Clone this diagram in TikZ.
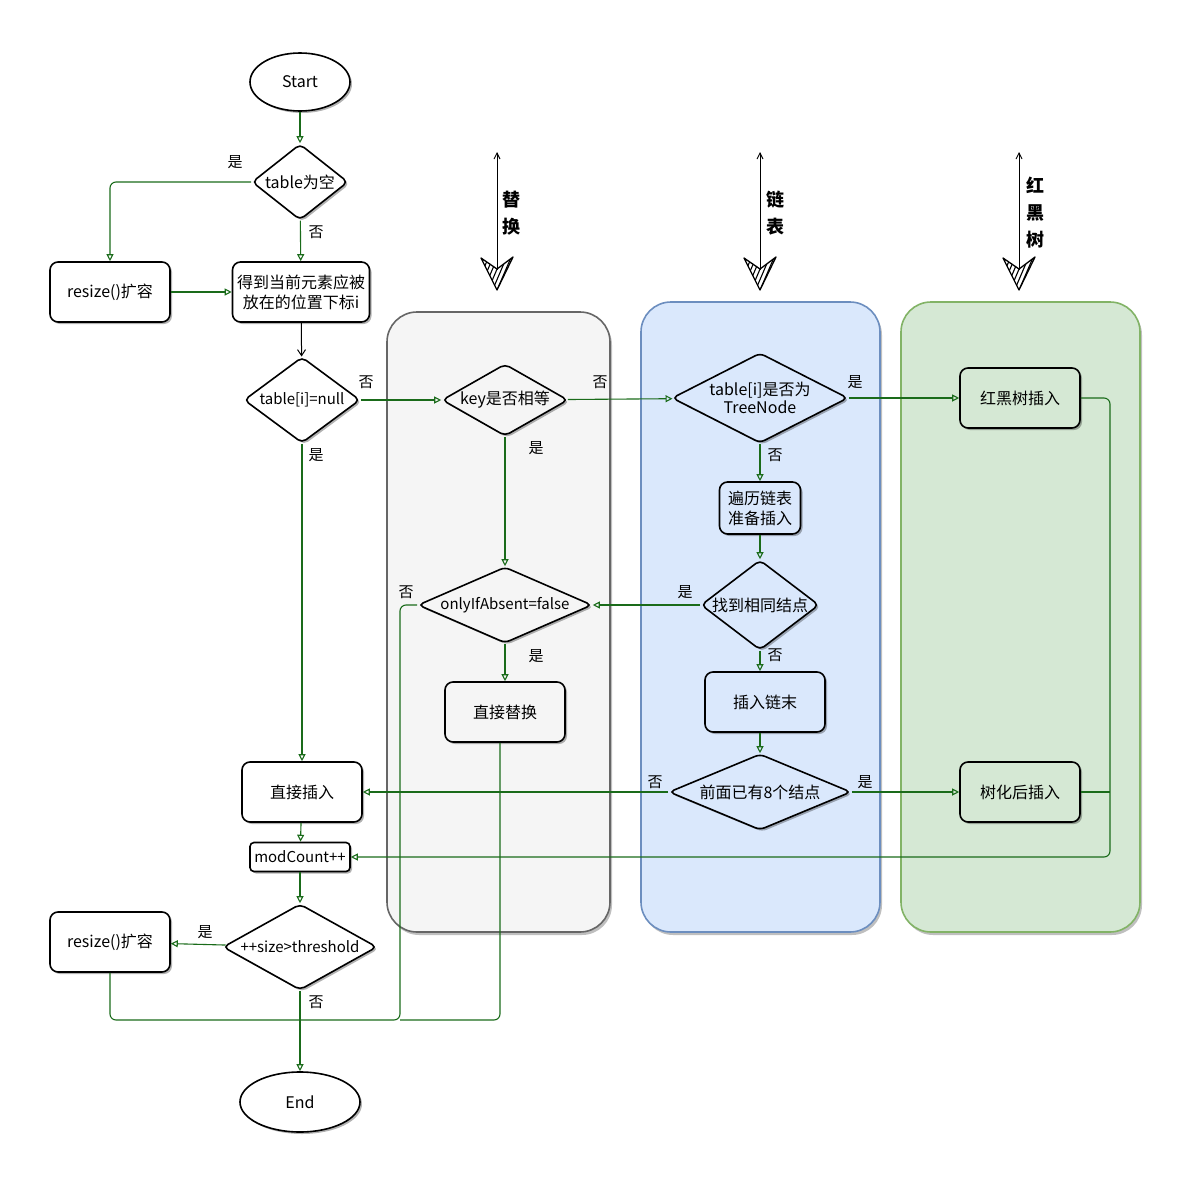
\documentclass[tikz,border=0pt]{standalone}
\usepackage{fontspec}
\setmainfont{Noto Sans CJK SC}
\usetikzlibrary{shapes.geometric,arrows.meta,shadows,calc}
\definecolor{lg}{HTML}{1A6B1A}
\definecolor{grayf}{HTML}{F5F5F5}
\definecolor{grays}{HTML}{666666}
\definecolor{bluef}{HTML}{DAE8FC}
\definecolor{blues}{HTML}{6C8EBF}
\definecolor{greenf}{HTML}{D5E8D4}
\definecolor{greens}{HTML}{82B366}
\newcommand\fs{\fontsize{16}{20}\selectfont}
\newcommand\sfs{\fontsize{15}{18}\selectfont}
\newcommand\lfs{\fontsize{15}{17}\selectfont}
\newcommand\zt[1]{\makebox[0pt]{#1}}
\tikzset{
  shd/.style={drop shadow={shadow xshift=2pt,shadow yshift=-2pt,opacity=0.3,fill=black}},
  box/.style={draw, line width=1.6pt, rounded corners=8pt, fill=white, minimum width=120, minimum height=60, inner sep=2pt, align=center, font=\fs, shd},
  dia/.style={diamond, draw, line width=1.6pt, rounded corners=5pt, fill=white, inner sep=0pt, font=\fs, shd},
  term/.style={ellipse, draw, line width=1.6pt, fill=white, font=\fs, shd},
  cont/.style={line width=1.6pt, rounded corners=30pt, drop shadow={shadow xshift=2pt,shadow yshift=-3pt,opacity=0.25,fill=black}},
  arr/.style={draw=lg, line width=1.1pt, -{Triangle[open,length=7pt,width=7pt]}},
  barr/.style={draw=black, line width=1pt, -{Straight Barb[length=6pt,width=8pt]}},
  ln/.style={draw=lg, line width=1.1pt},
  lbl/.style={font=\lfs, inner sep=1pt},
  ttl/.style={font=\fontsize{18}{27}\selectfont\bfseries, align=center, inner sep=0pt},
}
\begin{document}
\begin{tikzpicture}[x=1pt,y=-1pt]
\useasboundingbox (0,0) rectangle (1195,1186);
% containers
\path[cont, fill=grayf, draw=grays] (387,312) rectangle (610,932);
\path[cont, fill=bluef, draw=blues] (641,302) rectangle (880,932);
\path[cont, fill=greenf, draw=greens] (901,302) rectangle (1140,932);

% column title arrows
\foreach \x/\nm in {497/a,760/b,1019/c}{
  \coordinate (top\nm) at (\x,152);
  \coordinate (bot\nm) at (\x,270);
  \draw[line width=0.9pt, {Straight Barb[length=6pt,width=6pt]}-] (top\nm) -- (bot\nm);
  \begin{scope}
    \clip (\x-16,258) -- (\x,290) -- (\x+16,257) -- (\x,269) -- cycle;
    \foreach \k in {0,...,14}{
      \draw[line width=1.1pt] (\x-34+\k*4.5,296) -- ++(18,-42);
    }
  \end{scope}
  \draw[line width=1.3pt, line join=round] (\x-16,258) -- (\x,290) -- (\x+16,257) -- (\x,269) -- cycle;
}
\node[ttl] (ta) at (511,213) {替\\换};
\node[ttl] (tb) at (775,213) {链\\表};
\node[ttl] (tc) at (1035,213) {红\\黑\\树};

% nodes
\node[term, minimum width=100, minimum height=58] (start) at (300,82) {Start};
\node[dia, minimum width=96, minimum height=76] (empty) at (300,182) {\zt{table为空}};
\node[box] (rs1) at (110,292) {resize()扩容};
\node[box, minimum width=137] (getidx) at (301,292) {得到当前元素应被\\放在的位置下标i};
\node[dia, font=\sfs, minimum width=116, minimum height=86] (isnull) at (302,400) {\zt{table[i]=null}};
\node[dia, fill=grayf, minimum width=126, minimum height=72] (keyeq) at (505,400) {\zt{key是否相等}};
\node[dia, fill=bluef, minimum width=176, minimum height=90] (istree) at (760,398) {\zt{\shortstack{table[i]是否为\\TreeNode}}};
\node[box, fill=greenf] (rbt) at (1020,398) {红黑树插入};
\node[box, fill=bluef, minimum width=81, minimum height=52] (trav) at (760,508) {遍历链表\\准备插入};
\node[dia, fill=bluef, minimum width=118, minimum height=90] (found) at (760,605) {\zt{找到相同结点}};
\node[dia, font=\sfs, fill=grayf, minimum width=174, minimum height=76] (absent) at (505,605) {\zt{onlyIfAbsent=false}};
\node[box, fill=grayf] (repl) at (505,712) {直接替换};
\node[box, fill=bluef] (tail) at (765,702) {插入链末};
\node[dia, fill=bluef, minimum width=182, minimum height=76] (eight) at (760,792) {\zt{前面已有8个结点}};
\node[box, fill=greenf] (treeify) at (1020,792) {树化后插入};
\node[box] (direct) at (302,792) {直接插入};
\node[box, font=\sfs, minimum width=100, minimum height=29, rounded corners=4pt] (mod) at (300,857) {modCount++};
\node[dia, font=\sfs, minimum width=154, minimum height=86] (size) at (300,947) {\zt{++size>threshold}};
\node[box] (rs2) at (110,942) {resize()扩容};
\node[term, minimum width=120, minimum height=60] (endn) at (300,1102) {End};

\coordinate (rcol) at (1110,857);
\coordinate (jn) at (300,1020);
\coordinate (abs) at (400,1020);
\coordinate (rep) at (500,1020);

% connectors
\draw[arr] (start) -- (empty);
\draw[arr, rounded corners=6pt] (empty.west) -| (rs1.north);
\draw[arr] (empty) -- (getidx);
\draw[arr] (rs1) -- (getidx);
\draw[barr] (getidx) -- (isnull);
\draw[arr] (isnull) -- (keyeq);
\draw[arr] (isnull) -- (direct);
\draw[arr] (keyeq) -- (istree);
\draw[arr] (keyeq) -- (absent);
\draw[arr] (absent) -- (repl);
\draw[arr] (istree) -- (rbt);
\draw[arr] (istree) -- (trav);
\draw[arr] (trav) -- (found);
\draw[arr] (found) -- (absent);
\draw[arr] (found.south) -- (found.south |- tail.north);
\draw[arr] (eight.north |- tail.south) -- (eight.north);
\draw[arr] (eight) -- (direct);
\draw[arr] (eight) -- (treeify);
\draw[arr, rounded corners=6pt] (rbt.east) -| (rcol) -- (mod.east);
\draw[ln] (treeify.east) -- (treeify.east -| rcol);
\draw[arr] (direct) -- (mod);
\draw[arr] (mod) -- (size);
\draw[arr] (size) -- (rs2);
\draw[arr] (size) -- (endn);
\draw[ln, rounded corners=6pt] (rs2.south) |- (jn);
\draw[ln, rounded corners=6pt] (absent.west) -| (abs) -- (jn);
\draw[ln, rounded corners=6pt] (repl.south -| rep) -- (rep) -- (abs);

% labels
\node[lbl] (l1) at (235,162) {是};
\node[lbl] (l2) at (316,232) {否};
\node[lbl] (l3) at (366,382) {否};
\node[lbl] (l4) at (316,455) {是};
\node[lbl] (l5) at (600,382) {否};
\node[lbl] (l6) at (536,448) {是};
\node[lbl] (l7) at (855,382) {是};
\node[lbl] (l8) at (775,455) {否};
\node[lbl] (l9) at (685,592) {是};
\node[lbl] (l10) at (406,592) {否};
\node[lbl] (l11) at (536,656) {是};
\node[lbl] (l12) at (775,655) {否};
\node[lbl] (l13) at (655,782) {否};
\node[lbl] (l14) at (865,782) {是};
\node[lbl] (l15) at (205,932) {是};
\node[lbl] (l16) at (316,1002) {否};
\end{tikzpicture}
\end{document}
